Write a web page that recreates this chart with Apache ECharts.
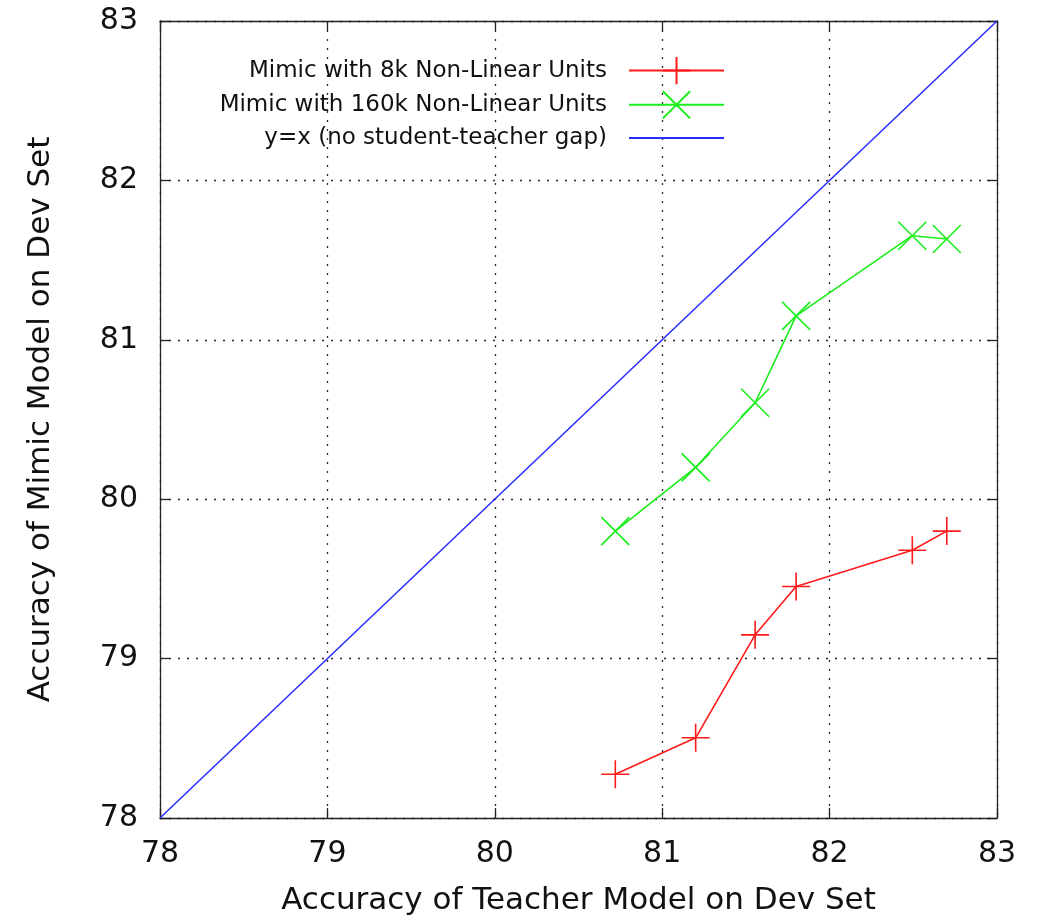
<!DOCTYPE html>
<html>
<head>
<meta charset="utf-8">
<script src="https://cdn.jsdelivr.net/npm/echarts@6/dist/echarts.min.js"></script>
<style>html,body{margin:0;padding:0;background:#fff}#c{width:1048px;height:921px}</style>
</head>
<body>
<div id="c"></div>
<script>
const teacherAcc = [80.72, 81.20, 81.555, 81.80, 82.494, 82.70];
const mimic8k = [78.274, 78.503, 79.149, 79.452, 79.68, 79.80];
const mimic160k = [79.80, 80.20, 80.605, 81.15, 81.653, 81.632];
const identityLine = [[78, 78], [83, 83]];
const seriesNames = ['Mimic with 8k Non-Linear Units', 'Mimic with 160k Non-Linear Units', 'y=x (no student-teacher gap)'];
const xTitle = 'Accuracy of Teacher Model on Dev Set';
const yTitle = 'Accuracy of Mimic Model on Dev Set';

const FONT = 'DejaVu Sans';
const plusPath = 'path://M0 1 L2 1 M1 0 L1 2';
const crossPath = 'path://M0 0 L2 2 M0 2 L2 0';
const hiddenPath = 'path://M0 0 L2 2';

function pairs(xs, ys) { return xs.map((x, i) => [x, ys[i]]); }

const chart = echarts.init(document.getElementById('c'), null, {renderer: 'canvas'});
const axisCommon = {
  type: 'value', min: 78, max: 83, interval: 1,
  axisLine: {show: true, lineStyle: {color: '#222', width: 1.3}},
  axisTick: {show: true, inside: true, length: 10, lineStyle: {color: '#222', width: 1.3}},
};
const gridLine = {show: true, lineStyle: {color: '#2a2a2a', type: [2, 7], width: 1.3}};
chart.setOption({
  animation: false,
  textStyle: {fontFamily: FONT},
  grid: {left: 160, right: 51, top: 21, bottom: 102},
  legend: {
    right: 318, top: 51, orient: 'vertical', align: 'right',
    itemWidth: 95, itemHeight: 34, itemGap: 5,
    textStyle: {fontFamily: FONT, fontSize: 23, color: '#111', padding: [0, 17, 0, 0]},
    data: seriesNames
  },
  xAxis: [
    Object.assign({}, axisCommon, {
      position: 'bottom',
      name: xTitle, nameLocation: 'middle', nameGap: 67,
      nameTextStyle: {fontFamily: FONT, fontSize: 31, color: '#111'},
      axisLabel: {fontFamily: FONT, fontSize: 30, color: '#111', margin: 21},
      splitLine: gridLine
    }),
    Object.assign({}, axisCommon, {
      position: 'top', axisLabel: {show: false}, splitLine: {show: false}
    })
  ],
  yAxis: [
    Object.assign({}, axisCommon, {
      position: 'left',
      name: yTitle, nameLocation: 'middle', nameGap: 104, nameRotate: 90,
      nameTextStyle: {fontFamily: FONT, fontSize: 31, color: '#111'},
      axisLabel: {fontFamily: FONT, fontSize: 30, color: '#111', margin: 22},
      splitLine: gridLine
    }),
    Object.assign({}, axisCommon, {
      position: 'right', axisLabel: {show: false}, splitLine: {show: false}
    })
  ],
  series: [
    {
      name: seriesNames[0], type: 'line', data: pairs(teacherAcc, mimic8k),
      symbol: plusPath, symbolSize: 28, showAllSymbol: true,
      lineStyle: {color: '#ff1a1a', width: 1.6},
      itemStyle: {color: 'rgba(0,0,0,0)', borderColor: '#ff1a1a', borderWidth: 1.6},
      z: 3
    },
    {
      name: seriesNames[1], type: 'line', data: pairs(teacherAcc, mimic160k),
      symbol: crossPath, symbolSize: 28, showAllSymbol: true,
      lineStyle: {color: '#1aee1a', width: 1.6},
      itemStyle: {color: 'rgba(0,0,0,0)', borderColor: '#1aee1a', borderWidth: 1.6},
      z: 3
    },
    {
      name: seriesNames[2], type: 'line', data: identityLine,
      symbol: hiddenPath, showSymbol: false,
      lineStyle: {color: '#2a2aff', width: 1.5},
      itemStyle: {color: 'rgba(0,0,0,0)', borderColor: 'rgba(0,0,0,0)', borderWidth: 0},
      z: 2
    }
  ]
});
</script>
</body>
</html>
